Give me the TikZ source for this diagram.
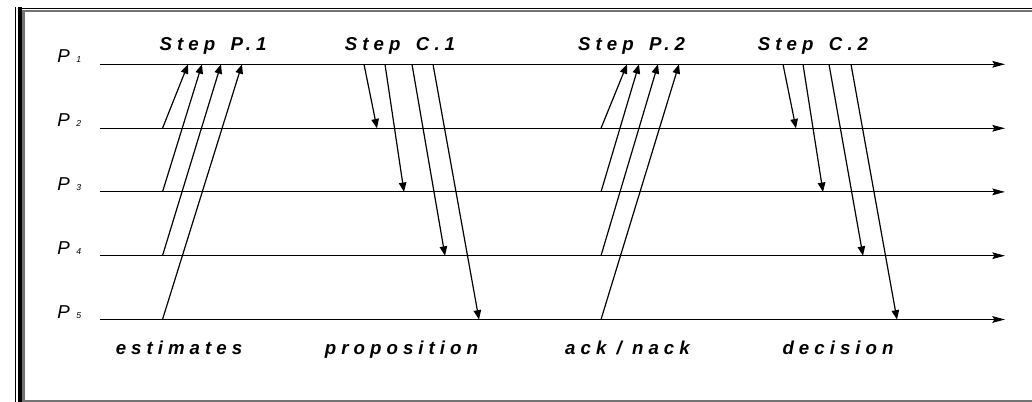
\documentclass[tikz,border=0pt]{standalone}
\usepackage{fontspec}
\setmainfont{Liberation Sans}
\newfontfamily\spacedfont[LetterSpace=27]{Liberation Sans}
\usetikzlibrary{arrows.meta}

\begin{document}
\begin{tikzpicture}[x=0.75pt,y=-0.75pt,
  tline/.style={line width=0.85pt,-{Stealth[length=9.5pt,width=5pt,inset=1.5pt]}},
  msg/.style={line width=0.9pt,-{Triangle[length=7pt,width=5.6pt]}},
  steplabel/.style={inner sep=0pt,font=\spacedfont\bfseries\itshape\fontsize{14}{15}\selectfont},
  phaselabel/.style={inner sep=0pt,font=\spacedfont\bfseries\itshape\fontsize{14}{15}\selectfont},
  plabel/.style={inner sep=0pt,font=\itshape\fontsize{14}{15}\selectfont},
  frameblack/.style={black,line cap=butt},
  framegray/.style={black!55,line cap=butt}]
\useasboundingbox (0,0) rectangle (1032,402);

% page frame
\draw[frameblack,line width=1pt] (15.7,7.5) -- (15.7,402);
\draw[frameblack,line width=3pt] (19.7,7.5) -- (19.7,402);
\draw[frameblack,line width=1.1pt] (17.7,8.3) -- (1032,8.3);
\draw[framegray,line width=2pt] (23.6,402) -- (23.6,11) -- (1032,11);
\draw[framegray,line width=1.6pt] (22.3,401) -- (1032,401);

% process time lines
\foreach \i/\y in {1/64.3,2/128.3,3/191.9,4/255.7,5/319.5}{
  \coordinate (s\i) at (100,\y);
  \coordinate (e\i) at (1005,\y);
  \draw[tline] (s\i) -- (e\i);
  \node[plabel,anchor=base west] (p\i) at (57,\y-1.4)
    {P\hspace{5pt}{\fontsize{6.5}{7}\selectfont\i}};
}

% step labels
\node[steplabel,anchor=base] (stepP1) at (213,50.7) {Step\hspace{4pt} P.1};
\node[steplabel,anchor=base] (stepC1) at (400,50.7) {Step\hspace{4pt} C.1};
\node[steplabel,anchor=base] (stepP2) at (631.5,50.7) {Step\hspace{4pt} P.2};
\node[steplabel,anchor=base] (stepC2) at (813,50.7) {Step\hspace{4pt} C.2};

% phase labels
\node[phaselabel,anchor=base] (estimates) at (179,355) {estimates};
\node[phaselabel,anchor=base] (proposition) at (401.5,355) {proposition};
\node[phaselabel,anchor=base] (acknack) at (627.5,355) {ack / nack};
\node[phaselabel,anchor=base] (decision) at (838,355) {decision};

% estimates sent to the coordinator
\foreach \k/\y/\xe in {2/128.3/188,3/191.9/202,4/255.7/221,5/319.5/242}{
  \coordinate (estfrom\k) at (162.5,\y);
  \coordinate (estto\k) at (\xe,64.3);
  \draw[msg] (estfrom\k) -- (estto\k);
}
% proposition sent by the coordinator
\foreach \k/\y/\xs/\xe in {2/128.3/364/377,3/191.9/385/404,4/255.7/412/445,5/319.5/433/479}{
  \coordinate (propfrom\k) at (\xs,64.3);
  \coordinate (propto\k) at (\xe,\y);
  \draw[msg] (propfrom\k) -- (propto\k);
}
% ack / nack sent to the coordinator
\foreach \k/\y/\xe in {2/128.3/627,3/191.9/639,4/255.7/658,5/319.5/679}{
  \coordinate (ackfrom\k) at (601,\y);
  \coordinate (ackto\k) at (\xe,64.3);
  \draw[msg] (ackfrom\k) -- (ackto\k);
}
% decision sent by the coordinator
\foreach \k/\y/\xs/\xe in {2/128.3/783/796,3/191.9/803/823,4/255.7/829/863,5/319.5/851/897}{
  \coordinate (decfrom\k) at (\xs,64.3);
  \coordinate (decto\k) at (\xe,\y);
  \draw[msg] (decfrom\k) -- (decto\k);
}
\end{tikzpicture}
\end{document}
